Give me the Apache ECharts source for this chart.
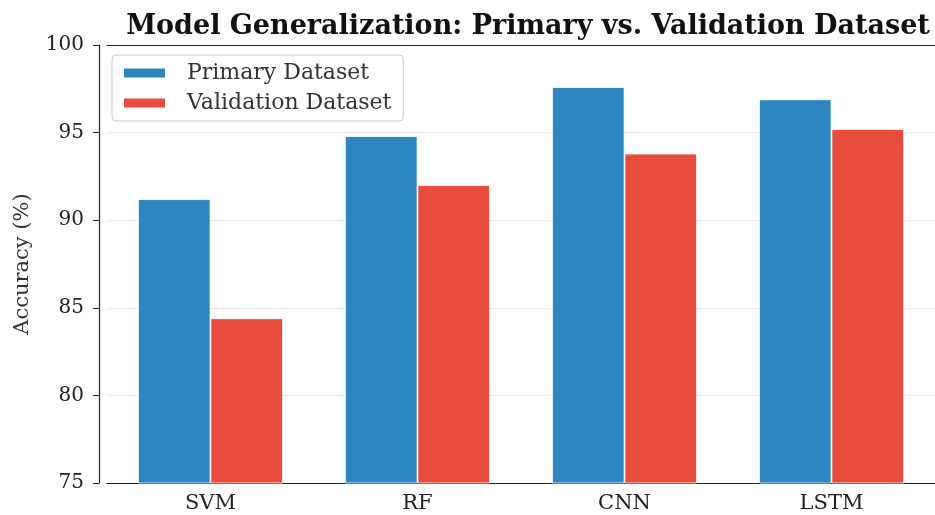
<!DOCTYPE html>
<html>
<head>
<meta charset="utf-8">
<script src="https://cdn.jsdelivr.net/npm/echarts@6/dist/echarts.min.js"></script>
<style>html,body{margin:0;padding:0;background:#fff;}#c{width:935px;height:515px;}</style>
</head>
<body>
<div id="c"></div>
<script>
const categories = ['SVM', 'RF', 'CNN', 'LSTM'];
const primaryValues = [91.2, 94.8, 97.6, 96.9];
const validationValues = [84.4, 92.0, 93.8, 95.2];
const yTicks = { min: 75, max: 100, interval: 5 };

const serif = '"DejaVu Serif", serif';
const chart = echarts.init(document.getElementById('c'));
chart.setOption({
  animation: false,
  backgroundColor: '#fff',
  title: {
    text: 'Model Generalization: Primary vs. Validation Dataset',
    left: 523, textAlign: 'center', top: 8,
    textStyle: { fontFamily: serif, fontWeight: 'bold', fontSize: 27, color: '#111' }
  },
  legend: {
    orient: 'vertical', left: 112, top: 55,
    itemWidth: 43, itemHeight: 11, itemGap: 4,
    padding: [5, 12, 5, 10],
    borderColor: '#d0d0d0', borderWidth: 1, borderRadius: 4,
    backgroundColor: 'rgba(255,255,255,0.85)',
    icon: 'rect',
    textStyle: { fontFamily: serif, fontSize: 22, lineHeight: 26, color: '#333', padding: [0, 0, 0, 16] },
    data: ['Primary Dataset', 'Validation Dataset']
  },
  grid: { left: 107, right: -2, top: 45, bottom: 32, containLabel: false },
  xAxis: [{
    type: 'category', data: categories,
    axisLine: { onZero: false, lineStyle: { color: '#222', width: 1.2 } },
    axisTick: { alignWithLabel: true, length: 5, lineStyle: { color: '#222' } },
    axisLabel: { fontFamily: serif, fontSize: 21, color: '#222', margin: 10 }
  }, {
    type: 'category', data: categories, position: 'top',
    axisLine: { onZero: false, lineStyle: { color: '#222', width: 1.2 } },
    axisTick: { show: false }, axisLabel: { show: false }
  }],
  yAxis: {
    type: 'value', min: yTicks.min, max: yTicks.max, interval: yTicks.interval,
    offset: 8,
    name: 'Accuracy (%)', nameLocation: 'middle', nameGap: 66,
    nameTextStyle: { fontFamily: serif, fontSize: 21, color: '#333' },
    axisLine: { show: true, onZero: false, lineStyle: { color: '#222', width: 1.2 } },
    axisTick: { show: true, length: 6, lineStyle: { color: '#222' } },
    axisLabel: { fontFamily: serif, fontSize: 20, color: '#222', margin: 15 },
    splitLine: { show: true, lineStyle: { color: '#e8e8e8', width: 1 } }
  },
  series: [{
    name: 'Primary Dataset', type: 'bar', data: primaryValues,
    barGap: '0%', barCategoryGap: '30%',
    itemStyle: { color: '#2e86c1', borderColor: '#fff', borderWidth: 0.8 }
  }, {
    name: 'Validation Dataset', type: 'bar', data: validationValues,
    itemStyle: { color: '#e74c3c', borderColor: '#fff', borderWidth: 0.8 }
  }]
});
</script>
</body>
</html>
